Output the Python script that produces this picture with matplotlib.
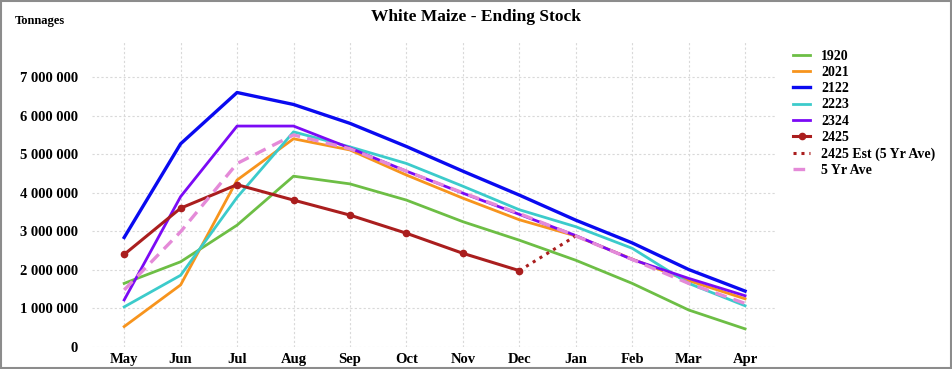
import matplotlib.pyplot as plt
import matplotlib.ticker as mticker
from matplotlib.patches import Rectangle

months = ['May', 'Jun', 'Jul', 'Aug', 'Sep', 'Oct', 'Nov', 'Dec', 'Jan', 'Feb', 'Mar', 'Apr']

# ending stock, tonnes
s1920 = [1650000, 2210000, 3160000, 4430000, 4230000, 3810000, 3250000, 2770000, 2250000, 1650000, 960000, 470000]
s2021 = [530000, 1610000, 4330000, 5400000, 5110000, 4460000, 3860000, 3300000, 2880000, 2280000, 1720000, 1250000]
s2122 = [2840000, 5270000, 6600000, 6290000, 5800000, 5200000, 4560000, 3940000, 3290000, 2700000, 2010000, 1450000]
s2223 = [1040000, 1860000, 3880000, 5580000, 5190000, 4760000, 4170000, 3560000, 3120000, 2560000, 1650000, 1070000]
s2324 = [1220000, 3900000, 5730000, 5730000, 5160000, 4560000, 3990000, 3440000, 2890000, 2270000, 1780000, 1330000]
s2425 = [2400000, 3600000, 4210000, 3810000, 3420000, 2950000, 2430000, 1980000]
s2425_est = [1980000, 2880000]   # Dec -> Jan
ave5 = [1480000, 2990000, 4760000, 5500000, 5140000, 4560000, 4000000, 3460000, 2880000, 2270000, 1650000, 1130000]

x = list(range(len(months)))

plt.rcParams['font.family'] = ['Liberation Serif', 'DejaVu Serif']
plt.rcParams['font.weight'] = 'bold'

fig = plt.figure(figsize=(9.53, 3.69), dpi=100)
ax = fig.add_axes([92 / 953, 22 / 369, (775 - 92) / 953, (347 - 42) / 369])

lw = 2.0
ax.plot(x, s1920, color='#6DBE45', lw=lw, label='1920')
ax.plot(x, s2021, color='#F7941D', lw=lw, label='2021')
ax.plot(x, s2122, color='#0A0AF0', lw=2.4, label='2122')
ax.plot(x, s2223, color='#3CCBCB', lw=lw, label='2223')
ax.plot(x, s2324, color='#7B0AF5', lw=lw, label='2324')
ax.plot(x[:len(s2425)], s2425, color='#AA1E1E', lw=2.2, marker='o', ms=4.5, label='2425')
ax.plot(x[7:9], s2425_est, color='#AA1E1E', lw=2.2, ls=(0, (1, 1.6)), label='2425 Est (5 Yr Ave)')
ax.plot(x, ave5, color='#E48AD8', lw=2.4, ls=(0, (3.5, 2.2)), label='5 Yr Ave')

ax.set_xlim(-0.57, 11.53)
ax.set_ylim(0, 7910000)
ax.set_xticks(x)
ax.set_xticklabels(months)
ax.set_yticks(range(0, 7000001, 1000000))
ax.yaxis.set_major_formatter(mticker.FuncFormatter(lambda v, p: f'{int(v):,}'.replace(',', ' ')))
ax.tick_params(length=0, labelsize=10.5, pad=10)
ax.tick_params(axis='x', pad=4)
for lab in ax.get_xticklabels() + ax.get_yticklabels():
    lab.set_fontweight('bold')

ax.grid(True, color='#D9D9D9', ls=(0, (2, 2)), lw=0.8)
for sp in ax.spines.values():
    sp.set_visible(False)

leg = fig.legend(loc='upper left', bbox_to_anchor=(781 / 953, 1 - 37 / 369), frameon=False,
                 handlelength=1.2, handletextpad=0.8, labelspacing=0.24,
                 prop={'weight': 'bold', 'size': 10})

fig.text(0.5, 1 - 17 / 369, 'White Maize - Ending Stock', ha='center', va='center',
         fontsize=12.5, fontweight='bold')
fig.text(15 / 953, 1 - 21 / 369, 'Tonnages', ha='left', va='center', fontsize=9, fontweight='bold')

fig.patches.append(Rectangle((0.001, 0.002), 0.997, 0.995, transform=fig.transFigure,
                             fill=False, edgecolor='#8C8C8C', lw=1.5))

fig.savefig('out.png', dpi=100)
